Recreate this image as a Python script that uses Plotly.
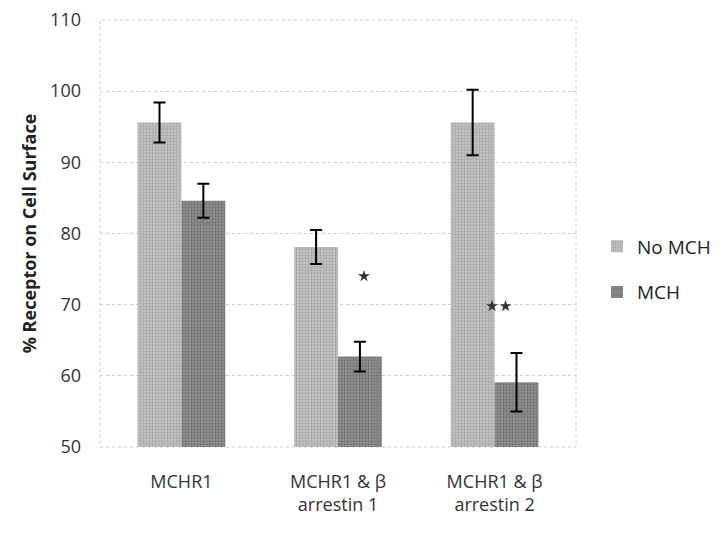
import plotly.graph_objects as go

categories = ["MCHR1", "MCHR1 & β<br>arrestin 1", "MCHR1 & β<br>arrestin 2"]
cat_pos = [0, 1, 2]
no_mch = [95.6, 78.1, 95.6]
no_mch_err = [2.8, 2.4, 4.6]
mch = [84.6, 62.7, 59.1]
mch_err = [2.4, 2.1, 4.1]
sig_x = [1.166, 1.984, 2.07]
sig_y = [74.0, 69.8, 69.8]
y_ticks = [50, 60, 70, 80, 90, 100, 110]

fig = go.Figure()
fig.add_trace(go.Bar(
    x=cat_pos, y=no_mch, name="No MCH", offsetgroup="a", legendgroup="a",
    marker=dict(color="#b0b0b0", line=dict(width=0),
                pattern=dict(shape=".", fgcolor="#8a8a8a", bgcolor="#c4c4c4", size=3, solidity=0.45)),
    error_y=dict(type="data", array=no_mch_err, color="black", thickness=2, width=6),
))
fig.add_trace(go.Bar(
    x=cat_pos, y=mch, name="MCH", offsetgroup="b", legendgroup="b",
    marker=dict(color="#767676", line=dict(width=0),
                pattern=dict(shape=".", fgcolor="#555555", bgcolor="#909090", size=3, solidity=0.45)),
    error_y=dict(type="data", array=mch_err, color="black", thickness=2, width=6),
))
fig.add_trace(go.Scatter(
    x=sig_x, y=sig_y, mode="markers", showlegend=False,
    marker=dict(symbol="star", size=9, color="#333333"),
))

fig.update_layout(
    width=719, height=535,
    paper_bgcolor="white", plot_bgcolor="white",
    margin=dict(l=92, r=150, t=12, b=96),
    font=dict(family="Open Sans, sans-serif", color="#222222"),
    barmode="group", bargap=0.44, bargroupgap=0.0,
    legend=dict(x=1.042, y=0.416, yanchor="middle", xanchor="left",
                font=dict(size=19), tracegroupgap=18, traceorder="grouped"),
    xaxis=dict(range=[-0.52, 2.52], tickvals=cat_pos, ticktext=categories,
               tickfont=dict(size=18, color="#333333"), showgrid=False, automargin=False,
               showline=False, zeroline=False, ticks="", ticklabelstandoff=22),
    yaxis=dict(range=[50, 110], tickvals=y_ticks, tickfont=dict(size=18, color="#333333"),
               showgrid=True, gridcolor="#cfcfcf", griddash="dot", gridwidth=1, automargin=False,
               zeroline=False, showline=False, ticks="", ticklabelstandoff=18,
               ticklabeloverflow="allow",
               title=dict(text="<b>% Receptor on Cell Surface</b>", font=dict(size=18, color="#222222"), standoff=8)),
    shapes=[dict(type="rect", xref="paper", yref="paper", x0=0, x1=1, y0=0, y1=1,
                 line=dict(color="#cfcfcf", width=1, dash="dot"), layer="below")],
)

fig.write_html("out.html")
